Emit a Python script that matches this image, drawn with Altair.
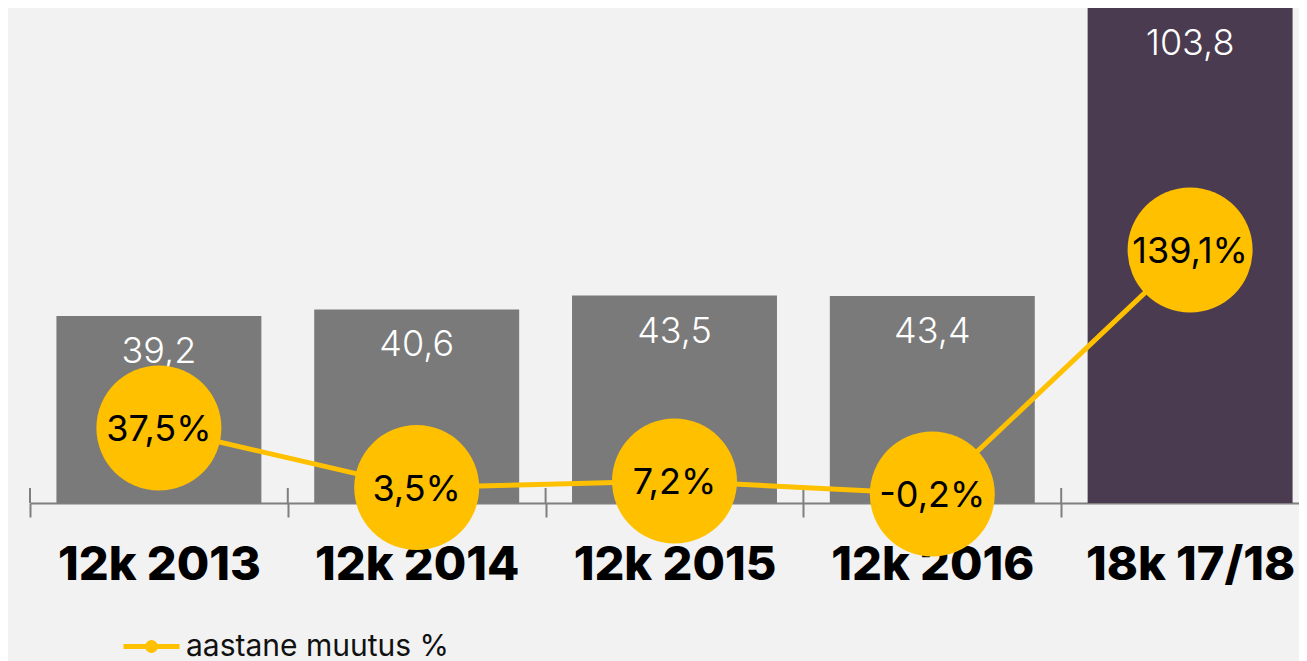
import altair as alt
import pandas as pd

cats = ["12k 2013", "12k 2014", "12k 2015", "12k 2016", "18k 17/18"]
values = [39.2, 40.6, 43.5, 43.4, 103.8]
value_labels = ["39,2", "40,6", "43,5", "43,4", "103,8"]
changes = [37.5, 3.5, 7.2, -0.2, 139.1]
change_labels = ["37,5%", "3,5%", "7,2%", "-0,2%", "139,1%"]
kinds = ["12k", "12k", "12k", "12k", "18k"]
series_name = "aastane muutus %"

df = pd.DataFrame({
    "cat": cats,
    "value": values,
    "vlabel": value_labels,
    "change": changes,
    "clabel": change_labels,
    "kind": kinds,
    "series": [series_name] * len(cats),
})

FONT = "Inter"
YELLOW = "#ffc000"
AXIS_GRAY = "#7f7f7f"

x_scale = alt.Scale(range=[0, 1289], paddingInner=0, paddingOuter=0)
x_axis = alt.Axis(
    title=None, labelAngle=0, tickBand="extent",
    domainColor=AXIS_GRAY, domainWidth=2,
    tickColor=AXIS_GRAY, tickWidth=2, tickSize=14,
    labelFont=FONT, labelFontSize=47, labelFontWeight=800, labelColor="#000000",
    labelBaseline="alphabetic", labelPadding=62, labelLimit=0,
)
x_plain = alt.X("cat:N", sort=cats, scale=x_scale)

y_bar = alt.Y("value:Q", scale=alt.Scale(domain=[0, 103.8], nice=False, zero=True), axis=None)
y_line = alt.Y("change:Q", scale=alt.Scale(domain=[-5.3, 277.2], nice=False, zero=False), axis=None)

base = alt.Chart(df)

bars = base.mark_bar(width=alt.RelativeBandSize(0.795)).encode(
    x=alt.X("cat:N", sort=cats, scale=x_scale, axis=x_axis),
    y=y_bar,
    color=alt.Color("kind:N", scale=alt.Scale(domain=["12k", "18k"], range=["#7a7a7a", "#4a3b50"]), legend=None),
)

bar_text = base.mark_text(
    font=FONT, fontSize=36, fontWeight=300, color="#ffffff", baseline="alphabetic", dy=47
).encode(x=x_plain, y=y_bar, text="vlabel:N")

up_ticks = base.mark_rule(color=AXIS_GRAY, strokeWidth=2).encode(
    x=alt.X("cat:N", sort=cats, scale=x_scale, bandPosition=0),
    y=alt.value(480),
    y2=alt.value(495),
)

legend_path = "M-1,0H1M0.14,0A0.14,0.14,0,1,1,-0.14,0A0.14,0.14,0,1,1,0.14,0Z"

line = base.mark_line(strokeWidth=5).encode(
    x=x_plain,
    y=y_line,
    color=alt.Color(
        "series:N",
        scale=alt.Scale(range=[YELLOW]),
        legend=alt.Legend(
            title=None, orient="none", legendX=91, legendY=608,
            symbolType=legend_path, symbolSize=3136, symbolStrokeWidth=5,
            symbolFillColor=YELLOW, symbolStrokeColor=YELLOW,
            labelFont=FONT, labelFontSize=30, labelColor="#111111",
            labelOffset=4, padding=0, labelLimit=0,
        ),
    ),
)

circles = base.mark_circle(size=15625, opacity=1, color=YELLOW).encode(x=x_plain, y=y_line)

circle_text = base.mark_text(
    font=FONT, fontSize=36, color="#000000", baseline="alphabetic", dy=13
).encode(x=x_plain, y=y_line, text="clabel:N")

chart = alt.layer(
    alt.layer(bars, bar_text, up_ticks),
    alt.layer(line, circles, circle_text),
).resolve_scale(y="independent", color="independent").properties(
    width=1269,
    height=495,
    autosize=alt.AutoSizeParams(type="none"),
    padding={"left": 22, "top": 0, "right": 0, "bottom": 165},
    background="#f2f2f2",
).configure_view(stroke=None)

chart.save("out.html", embed_options={"renderer": "svg", "actions": False})
